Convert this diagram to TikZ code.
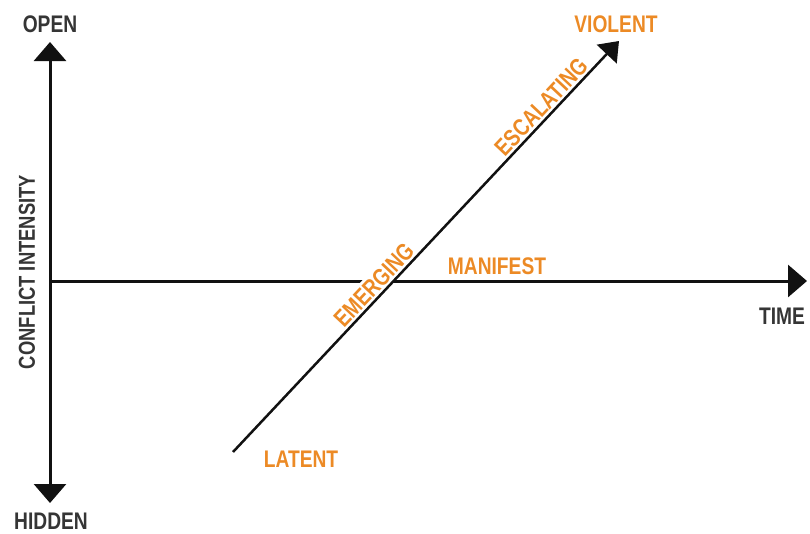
\documentclass[tikz,border=0pt]{standalone}
\usepackage{fontspec}
\setmainfont{Liberation Sans}[FakeStretch=0.8]
\usepackage{xcolor}
\usepackage{tikz}
\usetikzlibrary{arrows.meta}
\definecolor{corange}{HTML}{EC8A25}
\definecolor{cink}{HTML}{111111}

\begin{document}
\begin{tikzpicture}[x=1pt,y=-1pt,
  font=\fontsize{24}{26}\selectfont\bfseries,
  lab/.style={text=corange,inner sep=3pt},
  axlab/.style={text=cink!85,inner sep=0pt},
  axis/.style={-{Triangle[length=19pt,width=32pt]},line width=3pt,cink},
  diag/.style={-{Triangle[length=18pt,width=27pt]},line width=2.5pt,cink}]
\useasboundingbox (0,0) rectangle (810,533);
\coordinate (orig) at (50,281);
\coordinate (top) at (50,42);
\coordinate (bot) at (50,503);
\coordinate (right) at (807,281);
\coordinate (lo) at (233,452);
\coordinate (hi) at (619,41);
\draw[axis] (orig) -- (top);
\draw[axis] (orig) -- (bot);
\draw[axis] (orig) -- (right);
\node[axlab] (open) at (50,24) {OPEN};
\node[axlab] (hidden) at (51,521) {HIDDEN};
\node[axlab] (time) at (782,316) {TIME};
\node[axlab,rotate=90,font=\fontsize{23}{25}\selectfont\bfseries] (intens) at (27,272) {CONFLICT INTENSITY};
\path (lo) -- node[lab,fill=white,sloped,above,pos=0.387] (emerg) {EMERGING}
  node[lab,sloped,above,pos=0.82] (escal) {ESCALATING} (hi);
\draw[diag] (lo) -- (hi);
\node[lab] (violent) at (616,24) {VIOLENT};
\node[lab] (manif) at (497,266) {MANIFEST};
\node[lab] (latent) at (301,459) {LATENT};
\end{tikzpicture}
\end{document}
